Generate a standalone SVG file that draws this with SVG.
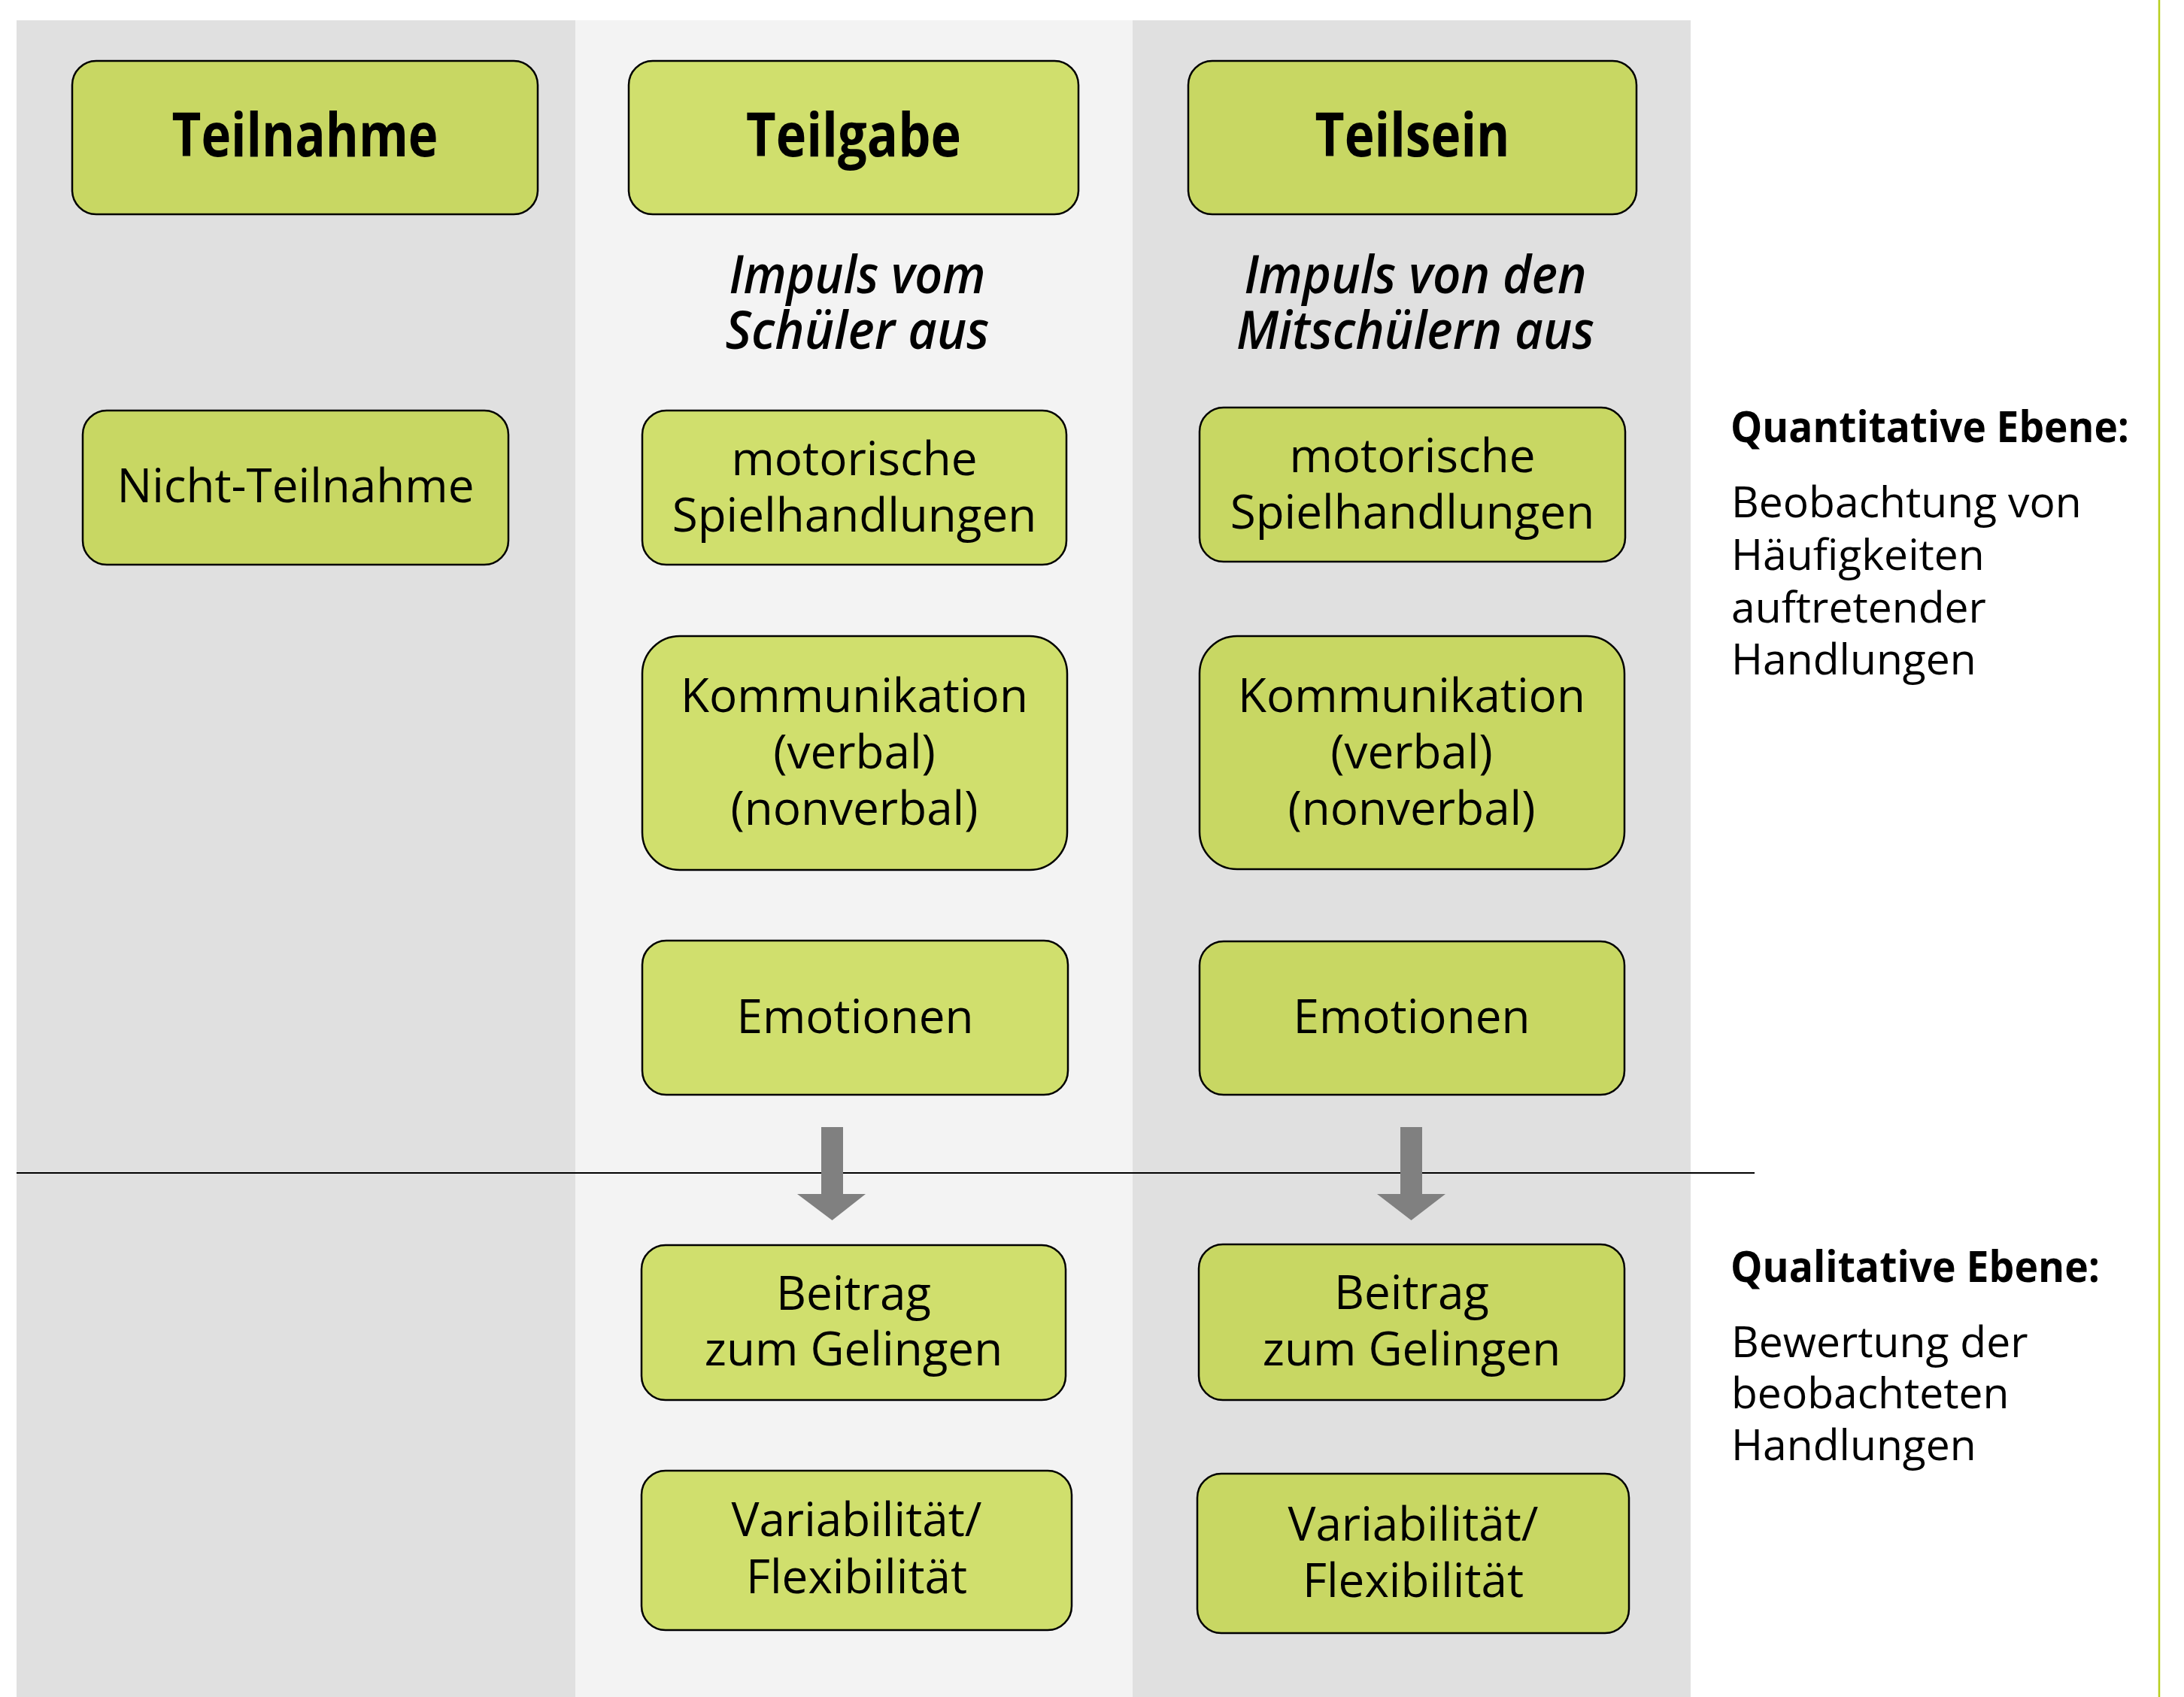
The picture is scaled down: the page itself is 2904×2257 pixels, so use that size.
<svg xmlns="http://www.w3.org/2000/svg" width="2904" height="2257" viewBox="0 0 2904 2257">
<style>
  .col-dark{fill:#e0e0e0}
  .col-light{fill:#f3f3f3}
  .box{stroke:#000;stroke-width:2.5}
  .dark{fill:#c8d763}
  .light{fill:#d0df6d}
  text{font-family:"Open Sans","Noto Sans",sans-serif;fill:#000}
  .title{font-size:80px;font-weight:700;text-anchor:middle}
  .body{font-size:62px;text-anchor:middle}
  .impuls{font-size:70px;font-weight:600;font-style:italic;text-anchor:middle}
  .head{font-size:58px;font-weight:700}
  .side{font-size:57px}
  .arrow{fill:#808080}
</style>
<rect x="0" y="0" width="2904" height="2257" fill="#ffffff"/>
<g id="columns">
  <rect class="col-dark" x="22" y="27" width="743" height="2230"/>
  <rect class="col-light" x="765" y="27" width="741" height="2230"/>
  <rect class="col-dark" x="1506" y="27" width="742" height="2230"/>
</g>
<line x1="2871" y1="0" x2="2871" y2="2257" stroke="#b8cf1e" stroke-width="2.5"/>

<g id="teilnahme">
  <rect class="box dark" x="96" y="81" width="619" height="204" rx="32"/>
  <text class="title" x="405.5" y="208" textLength="354" lengthAdjust="spacingAndGlyphs">Teilnahme</text>
</g>
<g id="teilgabe">
  <rect class="box light" x="836" y="81" width="598" height="204" rx="32"/>
  <text class="title" x="1135" y="208" textLength="286" lengthAdjust="spacingAndGlyphs">Teilgabe</text>
</g>
<g id="teilsein">
  <rect class="box dark" x="1580" y="81" width="596" height="204" rx="32"/>
  <text class="title" x="1878" y="208" textLength="259" lengthAdjust="spacingAndGlyphs">Teilsein</text>
</g>

<g id="impuls-schueler">
  <text class="impuls" x="1140" y="390" textLength="341" lengthAdjust="spacingAndGlyphs">Impuls vom</text>
  <text class="impuls" x="1140" y="464" textLength="351" lengthAdjust="spacingAndGlyphs">Schüler aus</text>
</g>
<g id="impuls-mitschueler">
  <text class="impuls" x="1882" y="390" textLength="455" lengthAdjust="spacingAndGlyphs">Impuls von den</text>
  <text class="impuls" x="1882" y="464" textLength="476" lengthAdjust="spacingAndGlyphs">Mitschülern aus</text>
</g>

<g id="nicht-teilnahme">
  <rect class="box dark" x="110" y="546" width="566" height="205" rx="32"/>
  <text class="body" x="393" y="668">Nicht-Teilnahme</text>
</g>

<g id="motorisch-1">
  <rect class="box light" x="854" y="546" width="564" height="205" rx="32"/>
  <text class="body" x="1136" y="632">motorische</text>
  <text class="body" x="1136" y="707">Spielhandlungen</text>
</g>
<g id="motorisch-2">
  <rect class="box dark" x="1595" y="542" width="566" height="205" rx="32"/>
  <text class="body" x="1878" y="628">motorische</text>
  <text class="body" x="1878" y="703">Spielhandlungen</text>
</g>

<g id="kommunikation-1">
  <rect class="box light" x="854" y="846" width="565" height="311" rx="50"/>
  <text class="body" x="1136" y="947">Kommunikation</text>
  <text class="body" x="1136" y="1022">(verbal)</text>
  <text class="body" x="1136" y="1097">(nonverbal)</text>
</g>
<g id="kommunikation-2">
  <rect class="box dark" x="1595" y="846" width="565" height="310" rx="50"/>
  <text class="body" x="1877" y="947">Kommunikation</text>
  <text class="body" x="1877" y="1022">(verbal)</text>
  <text class="body" x="1877" y="1097">(nonverbal)</text>
</g>

<g id="emotionen-1">
  <rect class="box light" x="854" y="1251" width="566" height="205" rx="32"/>
  <text class="body" x="1137" y="1374">Emotionen</text>
</g>
<g id="emotionen-2">
  <rect class="box dark" x="1595" y="1252" width="565" height="204" rx="32"/>
  <text class="body" x="1877" y="1374">Emotionen</text>
</g>

<g id="connectors">
  <line x1="22" y1="1560" x2="2333" y2="1560" stroke="#000" stroke-width="2"/>
  <path class="arrow" d="M1092 1499 L1121 1499 L1121 1588 L1151 1588 L1106.5 1623 L1060 1588 L1092 1588 Z"/>
  <path class="arrow" d="M1862 1499 L1891 1499 L1891 1588 L1922 1588 L1876.5 1623 L1831 1588 L1862 1588 Z"/>
</g>

<g id="beitrag-1">
  <rect class="box light" x="853" y="1656" width="564" height="206" rx="32"/>
  <text class="body" x="1135" y="1742">Beitrag</text>
  <text class="body" x="1135" y="1816">zum Gelingen</text>
</g>
<g id="beitrag-2">
  <rect class="box dark" x="1594" y="1655" width="566" height="207" rx="32"/>
  <text class="body" x="1877" y="1741">Beitrag</text>
  <text class="body" x="1877" y="1816">zum Gelingen</text>
</g>

<g id="variabilitaet-1">
  <rect class="box light" x="853" y="1956" width="572" height="212" rx="32"/>
  <text class="body" x="1139" y="2043">Variabilität/</text>
  <text class="body" x="1139" y="2119">Flexibilität</text>
</g>
<g id="variabilitaet-2">
  <rect class="box dark" x="1592" y="1960" width="574" height="212" rx="32"/>
  <text class="body" x="1879" y="2049">Variabilität/</text>
  <text class="body" x="1879" y="2124">Flexibilität</text>
</g>

<g id="quantitative">
  <text class="head" x="2301" y="588" textLength="530" lengthAdjust="spacingAndGlyphs">Quantitative Ebene:</text>
  <text class="side" x="2302" y="688">Beobachtung von</text>
  <text class="side" x="2302" y="758">Häufigkeiten</text>
  <text class="side" x="2302" y="828">auftretender</text>
  <text class="side" x="2302" y="897">Handlungen</text>
</g>
<g id="qualitative">
  <text class="head" x="2301" y="1705" textLength="491" lengthAdjust="spacingAndGlyphs">Qualitative Ebene:</text>
  <text class="side" x="2302" y="1805">Bewertung der</text>
  <text class="side" x="2302" y="1873">beobachteten</text>
  <text class="side" x="2302" y="1942">Handlungen</text>
</g>
</svg>
